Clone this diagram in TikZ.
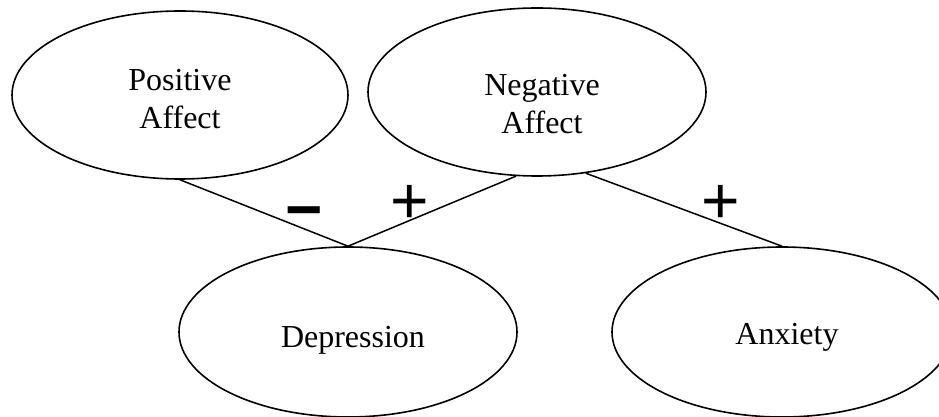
\documentclass[tikz,border=0pt]{standalone}
\usepackage{fontspec}
\setmainfont{Liberation Serif}
\newfontfamily\signfont{Liberation Sans}
\usetikzlibrary{shapes.geometric}
\begin{document}
\begin{tikzpicture}[x=1pt,y=1pt,
  oval/.style={ellipse,draw,line width=1.6pt,inner sep=0pt},
  lbl/.style={font=\fontsize{32}{38}\selectfont,align=center,inner sep=0pt},
  sign/.style={font=\signfont\fontsize{66}{66}\selectfont,inner sep=0pt},
  boldsign/.style={font=\signfont\bfseries\fontsize{64}{64}\selectfont,inner sep=0pt},
  link/.style={line width=1.5pt}]
\clip (0,0) rectangle (939,417);
\useasboundingbox (0,0) rectangle (939,417);
\node[oval,minimum width=336pt,minimum height=168pt] (pos) at (180,322) {};
\node[oval,minimum width=338pt,minimum height=168pt] (neg) at (537,325) {};
\node[oval,minimum width=338pt,minimum height=170pt] (dep) at (348,85) {};
\node[oval,minimum width=340pt,minimum height=170pt] (anx) at (782,85) {};
\node[lbl] (posT) at (180,318) {Positive\\Affect};
\node[lbl] (negT) at (542,313) {Negative\\Affect};
\node[lbl,anchor=base] (depT) at (353,69) {Depression};
\node[lbl,anchor=base] (anxT) at (787,72) {Anxiety};
\draw[link] (pos.south) -- (dep.north);
\draw[link] (neg.256.6) -- (dep.north);
\draw[link] (neg.301) -- (anx.north);
\node[boldsign] (s1) at (304,198) {−};
\node[sign] (s2) at (410,213) {+};
\node[sign] (s3) at (721,213) {+};
\end{tikzpicture}
\end{document}
